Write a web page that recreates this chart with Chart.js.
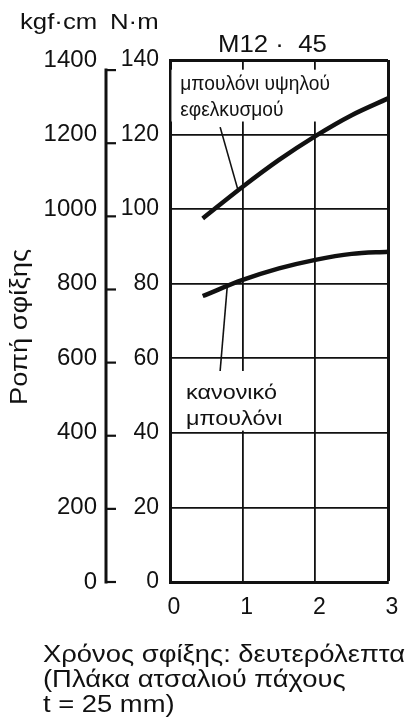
<!DOCTYPE html>
<html>
<head>
<meta charset="utf-8">
<title>Ροπή σφίξης M12·45</title>
<style>
  html, body { margin: 0; padding: 0; background: #fff; }
  #wrap { width: 415px; height: 723px; }
</style>
</head>
<body>
<div id="wrap"><canvas id="chart" width="415" height="723"></canvas></div>
<script src="https://cdn.jsdelivr.net/npm/chart.js@4/dist/chart.umd.min.js"></script>
<script>
// Clamping time, seconds.
var clampTimes = [0.45, 1, 1.5, 2, 2.5, 3];
// Torque, N·m.
var highTensileTorque = [97.5, 106.0, 113.2, 119.6, 125.2, 129.7];
var normalTorque = [76.7, 81.0, 84.1, 86.4, 88.0, 88.6];
// Axis ticks.
var timeTicks = [0, 1, 2, 3];
var nmTicks = [0, 20, 40, 60, 80, 100, 120, 140];
var kgfTicks = [0, 200, 400, 600, 800, 1000, 1200, 1400];

var KGF_CM_TO_NM = 0.0980665;
var FONT = '"Liberation Sans", Arial, sans-serif';
var INK = '#111';

// Labels inside the plot, anchored in data units (x: seconds, y: N·m).
var notes = [
  {
    lines: ['μπουλόνι υψηλού', 'εφελκυσμού'],
    text: [0.14, 131.9],
    size: 20,
    stretch: 0.96,
    box: [0.02, 137.4, 2.43, 123.5],
    leader: [[0.69, 122.0], [0.93, 105.5]],
  },
  {
    lines: ['κανονικό', 'μπουλόνι'],
    text: [0.22, 49.1],
    size: 20,
    stretch: 1.17,
    box: [0.2, 56.6, 1.7, 40.6],
    leader: [[0.69, 56.6], [0.79, 79.8]],
  },
];

/**
 * @description Writes text with its baseline at (x, y), widened by stretch.
 */
function drawText(ctx, text, x, y, size, stretch, angle) {
  ctx.save();
  ctx.translate(x, y);
  if (angle) {
    ctx.rotate(angle);
  }
  ctx.scale(stretch || 1, 1);
  ctx.font = size + 'px ' + FONT;
  ctx.fillStyle = INK;
  ctx.textBaseline = 'alphabetic';
  ctx.fillText(text, 0, 0);
  ctx.restore();
}

/**
 * @description Draws what Chart.js has no option for: note boxes,
 * leader lines, the true kgf·cm tick marks and the free texts.
 */
var chartDecor = {
  id: 'chartDecor',
  beforeDatasetsDraw: function (chart) {
    var ctx = chart.ctx;
    var x = chart.scales.x;
    var y = chart.scales.y;
    notes.forEach(function (note) {
      var x0 = x.getPixelForValue(note.box[0]);
      var y0 = y.getPixelForValue(note.box[1]);
      var x1 = x.getPixelForValue(note.box[2]);
      var y1 = y.getPixelForValue(note.box[3]);
      ctx.save();
      ctx.fillStyle = '#fff';
      ctx.fillRect(x0, y0, x1 - x0, y1 - y0);
      ctx.restore();

      var tx = x.getPixelForValue(note.text[0]);
      var ty = y.getPixelForValue(note.text[1]);
      note.lines.forEach(function (line, i) {
        drawText(ctx, line, tx, ty + i * 26, note.size, note.stretch);
      });
    });
  },
  afterDatasetsDraw: function (chart) {
    var ctx = chart.ctx;
    var x = chart.scales.x;
    var y = chart.scales.y;
    ctx.save();
    ctx.strokeStyle = INK;
    ctx.lineWidth = 1.6;
    notes.forEach(function (note) {
      ctx.beginPath();
      ctx.moveTo(x.getPixelForValue(note.leader[0][0]), y.getPixelForValue(note.leader[0][1]));
      ctx.lineTo(x.getPixelForValue(note.leader[1][0]), y.getPixelForValue(note.leader[1][1]));
      ctx.stroke();
    });
    ctx.restore();
  },
  afterDraw: function (chart) {
    var ctx = chart.ctx;
    var y = chart.scales.y;
    var kgf = chart.scales.yKgf;
    var area = chart.chartArea;
    var lineX = kgf.right;

    ctx.save();
    ctx.strokeStyle = INK;

    // kgf·cm axis line, ending at its last tick.
    var topY = y.getPixelForValue(kgfTicks[kgfTicks.length - 1] * KGF_CM_TO_NM);
    ctx.lineWidth = 3;
    ctx.beginPath();
    ctx.moveTo(lineX, topY - 1.5);
    ctx.lineTo(lineX, area.bottom + 1.5);
    ctx.stroke();

    // kgf·cm ticks at their true N·m height.
    ctx.lineWidth = 2.2;
    kgfTicks.forEach(function (v) {
      var ty = y.getPixelForValue(v * KGF_CM_TO_NM);
      ctx.beginPath();
      ctx.moveTo(lineX, ty);
      ctx.lineTo(lineX + 10, ty);
      ctx.stroke();
    });

    // Half length of the rotated axis title, to centre it.
    var title = 'Ροπή σφίξης';
    ctx.font = '23px ' + FONT;
    var half = ctx.measureText(title).width * 1.19 / 2;
    ctx.restore();

    // Units, chart title, axis titles.
    drawText(ctx, 'kgf·cm', 20, 29, 22, 1.17);
    drawText(ctx, 'N·m', 110, 29, 22, 1.17);
    drawText(ctx, 'M12 ·  45', 218, 52, 23, 1.12);
    drawText(ctx, title, 27, (area.top + area.bottom) / 2 + 6 + half, 23, 1.19, -Math.PI / 2);

    ['Χρόνος σφίξης: δευτερόλεπτα', '(Πλάκα ατσαλιού πάχους', 't = 25 mm)'].forEach(function (line, i) {
      drawText(ctx, line, 43, 662 + i * 25, 23, 1.19);
    });
  },
};

function useTicks(values) {
  return function (axis) {
    axis.ticks = values.map(function (v) { return { value: v }; });
  };
}

function frameWidth(max) {
  return function (context) {
    return context.tick && context.tick.value === max ? 3 : 1.8;
  };
}

function plainLabel(value) {
  return String(value);
}

var tickFont = { family: FONT, size: 23 };

new Chart(document.getElementById('chart'), {
  type: 'line',
  data: {
    datasets: [
      {
        label: 'μπουλόνι υψηλού εφελκυσμού',
        data: clampTimes.map(function (t, i) { return { x: t, y: highTensileTorque[i] }; }),
      },
      {
        label: 'κανονικό μπουλόνι',
        data: clampTimes.map(function (t, i) { return { x: t, y: normalTorque[i] }; }),
      },
    ],
  },
  options: {
    responsive: false,
    animation: false,
    layout: { padding: { top: 60, right: 27, bottom: 0, left: 0 } },
    elements: {
      line: {
        borderColor: INK,
        borderWidth: 4.5,
        tension: 0.4,
        cubicInterpolationMode: 'monotone',
        fill: false,
      },
      point: { radius: 0, hoverRadius: 0 },
    },
    plugins: {
      legend: { display: false },
      tooltip: { enabled: false },
    },
    scales: {
      x: {
        type: 'linear',
        min: 0,
        max: 3,
        afterBuildTicks: useTicks(timeTicks),
        afterFit: function (axis) { axis.height = 141; },
        ticks: { color: INK, font: tickFont, padding: 12, labelOffset: 4, callback: plainLabel },
        grid: { color: INK, lineWidth: frameWidth(3), drawTicks: false },
        border: { color: INK, width: 3 },
      },
      y: {
        position: 'left',
        weight: 0,
        min: 0,
        max: 140,
        afterBuildTicks: useTicks(nmTicks),
        afterFit: function (axis) { axis.width = 64; },
        ticks: { color: INK, font: tickFont, padding: 11, callback: plainLabel },
        grid: { color: INK, lineWidth: frameWidth(140), drawTicks: false },
        border: { color: INK, width: 3 },
      },
      yKgf: {
        position: 'left',
        weight: 1,
        min: 0,
        max: 1400,
        afterBuildTicks: useTicks(kgfTicks),
        afterFit: function (axis) { axis.width = 106; },
        ticks: { color: INK, font: { family: FONT, size: 24 }, padding: 9, callback: plainLabel },
        grid: { display: false, drawTicks: false },
        border: { display: false },
      },
    },
  },
  plugins: [chartDecor],
});
</script>
</body>
</html>
